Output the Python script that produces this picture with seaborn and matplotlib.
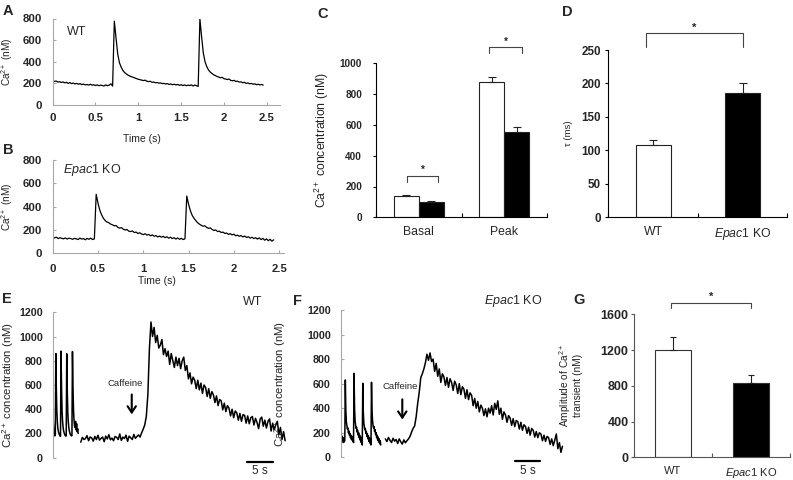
import numpy as np
import pandas as pd
import matplotlib
matplotlib.use('Agg')  # headless
import matplotlib.pyplot as plt
import seaborn as sns

# ---------------- data ----------------
# A: WT Ca2+ transient (nM), one sample every 20 ms from 0 to 2.46 s
a_end = 2.46
a_ca = [225, 218, 222, 212, 216, 208, 213, 205, 210, 200, 207, 198, 203, 195, 200, 192,
        198, 188, 194, 186, 190, 184, 192, 183, 188, 180, 186, 178, 184, 180, 176, 186,
        178, 184, 196, 175,
        775, 620, 470, 390, 350, 320, 300, 288, 276, 268, 262, 256, 250, 244, 238, 234,
        230, 226, 230, 220, 216, 220, 210, 212, 206, 208, 202, 204, 198, 200, 194, 198,
        190, 194, 188, 192, 186, 190, 182, 188, 180, 186, 178, 184, 180, 186, 176, 184,
        178, 172,
        795, 630, 480, 400, 355, 325, 305, 292, 280, 272, 264, 258, 252, 256, 244, 240,
        236, 240, 228, 224, 228, 218, 220, 212, 214, 206, 210, 200, 204, 196, 200, 192,
        196, 188, 192, 186, 190, 184]

# B: Epac1 KO transient (nM), one sample every 20 ms from 0 to 2.44 s
b_end = 2.44
b_ca = [140, 132, 138, 126, 134, 128, 124, 132, 122, 130, 126, 120, 128, 124, 118, 130,
        122, 126, 116, 128, 120, 130, 118, 124,
        506, 430, 370, 330, 300, 280, 268, 262, 250, 244, 236, 238, 222, 216, 220, 206,
        200, 204, 190, 186, 192, 178, 182, 170, 176, 166, 160, 168, 156, 162, 150, 158,
        146, 152, 140, 148, 138, 146, 134, 142, 130, 138, 126, 134, 122, 132, 120, 128,
        118, 124,
        491, 420, 365, 325, 300, 280, 262, 250, 240, 232, 236, 222, 214, 218, 204, 196,
        200, 186, 190, 178, 182, 170, 174, 162, 168, 158, 164, 150, 156, 146, 152, 140,
        148, 136, 142, 130, 138, 126, 134, 122, 132, 118, 128, 112, 124, 108, 120, 104,
        116]

# E: WT, spontaneous transients (0-4.9 s, 0.1 s steps) then caffeine (5.4-44.7 s)
e_seg1 = (0.0, 4.9)
e_ca1 = [330, 300, 240, 200, 180, 185, 860, 560, 380, 290, 240, 215, 200, 188, 180, 176,
         880, 580, 390, 300, 250, 222, 205, 192, 184, 178, 180, 858, 560, 380, 295, 248,
         220, 204, 192, 185, 180, 182, 876, 590, 400, 310, 260, 250, 300, 230, 280, 215,
         240, 200]
e_seg2 = (5.4, 44.7)
e_ca2 = [128, 168, 150, 158, 182, 140, 171, 163, 137, 176, 150, 185, 145, 160, 170, 132,
         178, 155, 190, 148, 162, 140, 175, 168, 150, 196, 142, 170, 158, 186, 135, 178,
         165, 150, 192, 160, 175, 188, 170, 205, 235, 270, 340, 520, 900, 1120,
         1000, 1075, 950, 1010, 905, 930, 975, 850, 900, 835, 880, 770, 860, 800, 745, 830,
         760, 820, 735, 800, 830, 720, 760, 650, 700, 610, 665, 640, 570, 640, 560, 615,
         530, 600, 580, 505, 570, 490, 545, 520, 455, 510, 430, 480, 470, 395, 450, 380,
         430, 410, 345, 400, 330, 385, 370, 310, 365, 300, 355, 350, 285, 345, 280, 330,
         340, 270, 325, 290, 240, 320, 335, 260, 310, 245, 300, 320, 220, 285, 230, 270,
         300, 190, 250, 150, 215, 140]

# F: Epac1 KO, spontaneous transients (0-7.8 s) then caffeine (8.7-43.2 s)
f_seg1 = (0.0, 7.8)
f_ca1 = [160, 140, 175, 130, 165, 120, 150, 125, 140, 630, 380, 290, 260, 230, 240, 200,
         215, 180, 195, 160, 180, 145, 170, 135, 160, 120, 684, 400, 300, 265, 235, 245,
         205, 220, 180, 200, 160, 180, 140, 165, 120, 150, 100, 603, 370, 285, 250, 225,
         235, 195, 210, 170, 190, 150, 175, 130, 160, 115, 150, 100, 611, 380, 300, 260,
         240, 250, 210, 225, 185, 200, 160, 180, 140, 165, 125, 150, 110, 135, 100]
f_seg2 = (8.7, 43.2)
f_ca2 = [150, 128, 162, 138, 120, 155, 132, 145, 112, 150, 126, 108, 142, 118, 135,
         150, 170, 205, 235, 255, 330, 440, 530, 650, 680, 720, 770, 840, 790, 850, 780, 800,
         700, 765, 660, 720, 610, 680, 655, 585, 650, 570, 640, 610, 545, 620, 590, 520,
         600, 510, 575, 555, 480, 550, 470, 525, 505, 420, 480, 400, 455, 370, 425, 400,
         340, 395, 330, 400, 360, 420, 345, 440, 390, 460, 350, 400, 310, 370, 345, 285,
         340, 320, 260, 315, 250, 300, 290, 230, 285, 220, 265, 250, 195, 245, 180, 235,
         220, 165, 210, 160, 200, 190, 135, 180, 130, 170, 160, 105, 150, 95, 140, 190,
         70, 120, 40, 90]

# C: basal / peak Ca2+ (nM), mean and upper SEM
c_groups = ['Basal', 'Peak']
c_wt = [141, 879]
c_wt_err = [3, 34]
c_ko = [102, 556]
c_ko_err = [5, 33]

# D: decay constant tau (ms)
genotypes = ['WT', 'Epac1 KO']
d_tau = [108, 186]
d_err = [8, 15]

# G: caffeine-induced transient amplitude (nM)
g_amp = [1205, 835]
g_err = [141, 86]

KO_LABEL = r'$\mathit{Epac1}$ KO'

# ---------------- style ----------------
sns.set_style('ticks')
plt.rcParams['font.family'] = ['Liberation Sans', 'DejaVu Sans']
plt.rcParams['mathtext.fontset'] = 'custom'
plt.rcParams['mathtext.rm'] = 'Liberation Sans'
plt.rcParams['mathtext.it'] = 'Liberation Sans:italic'
plt.rcParams['mathtext.bf'] = 'Liberation Sans:bold'

W, H = 793, 480
fig = plt.figure(figsize=(W / 100, H / 100), dpi=100)


def px_axes(left, top, right, bottom):
    # axes from pixel box of the reference
    return fig.add_axes([left / W, 1 - bottom / H, (right - left) / W, (bottom - top) / H])


def fig_text(x, y, s, **kw):
    fig.text(x / W, 1 - y / H, s, **kw)


def trace(ax, seg, vals, lw=0.9):
    t = np.linspace(seg[0], seg[1], len(vals))
    sns.lineplot(x=t, y=vals, ax=ax, color='black', lw=lw, estimator=None, sort=False)


def trace_style(ax, tick_size, grey='#a8a8a8'):
    for s in ['top', 'right']:
        ax.spines[s].set_visible(False)
    for s in ['left', 'bottom']:
        ax.spines[s].set_color(grey)
        ax.spines[s].set_linewidth(0.8)
    ax.tick_params(direction='in', length=2.5, width=0.8, color=grey, labelsize=tick_size)
    for lab in ax.get_xticklabels() + ax.get_yticklabels():
        lab.set_fontweight('bold')


def bar_style(ax, tick_size, cat_size, spine_col):
    for s in ['top', 'right']:
        ax.spines[s].set_visible(False)
    for s in ['left', 'bottom']:
        ax.spines[s].set_color(spine_col)
        ax.spines[s].set_linewidth(0.8)
    ax.set_xlim(-0.5, 1.5)
    ax.set_xticks([-0.5, 0.5, 1.5], minor=True)
    ax.tick_params(axis='x', which='major', length=0, labelsize=cat_size, pad=6)
    ax.tick_params(axis='x', which='minor', direction='in', length=3, width=0.8, color=spine_col)
    ax.tick_params(axis='y', direction='out', length=2.5, width=0.8, color=spine_col,
                   labelsize=tick_size)
    for lab in ax.get_yticklabels():
        lab.set_fontweight('bold')
    ax.set_xlabel('')


def up_errors(ax, container, errs, cap):
    for bar, e in zip(container, errs):
        x = bar.get_x() + bar.get_width() / 2
        h = bar.get_height()
        ax.errorbar([x], [h], yerr=[[0], [e]], fmt='none', ecolor='#222222',
                    elinewidth=0.8, capsize=cap, capthick=0.8)


def bracket(ax, x0, x1, top, tip, star_size=8):
    ax.plot([x0, x0, x1, x1], [tip, top, top, tip], color='#444444', lw=0.8, clip_on=False)
    ax.annotate('*', xy=((x0 + x1) / 2, top), xytext=(0, 0.5), textcoords='offset points',
                ha='center', va='bottom', fontsize=star_size, fontweight='bold',
                annotation_clip=False)


# ---------------- A ----------------
ax_a = px_axes(52.7, 18.5, 279.5, 105)
trace(ax_a, (0, a_end), a_ca)
ax_a.set_xlim(0, 2.65)
ax_a.set_ylim(0, 800)
ax_a.set_yticks([0, 200, 400, 600, 800])
ax_a.set_xticks([0, 0.5, 1, 1.5, 2, 2.5])
ax_a.set_xticklabels(['0', '0.5', '1', '1.5', '2', '2.5'])
trace_style(ax_a, 8.2)
ax_a.tick_params(axis='y', pad=7.5)
ax_a.tick_params(axis='x', pad=6)
ax_a.set_ylabel('Ca$^{2+}$ (nM)', fontsize=7.2, color='#222222')
ax_a.set_xlabel('Time (s)', fontsize=7.5, color='#222222')
ax_a.yaxis.set_label_coords(-0.168, 0.5)
ax_a.xaxis.set_label_coords(0.394, -0.335)
ax_a.text(0.17, 672, 'WT', fontsize=9, ha='left', va='center')

# ---------------- B ----------------
ax_b = px_axes(52.7, 160, 283.7, 253.3)
trace(ax_b, (0, b_end), b_ca)
ax_b.set_xlim(0, 2.55)
ax_b.set_ylim(0, 800)
ax_b.set_yticks([0, 200, 400, 600, 800])
ax_b.set_xticks([0, 0.5, 1, 1.5, 2, 2.5])
ax_b.set_xticklabels(['0', '0.5', '1', '1.5', '2', '2.5'])
trace_style(ax_b, 8.2)
ax_b.tick_params(axis='y', pad=7.5)
ax_b.tick_params(axis='x', pad=8)
ax_b.set_ylabel('Ca$^{2+}$ (nM)', fontsize=7.2, color='#222222')
ax_b.set_xlabel('Time (s)', fontsize=7.5, color='#222222')
ax_b.yaxis.set_label_coords(-0.165, 0.5)
ax_b.xaxis.set_label_coords(0.45, -0.243)
ax_b.text(0.117, 714, KO_LABEL, fontsize=9, ha='left', va='center')

# ---------------- C ----------------
ax_c = px_axes(376, 63.3, 547, 217.3)
df_c = pd.DataFrame({
    'group': c_groups * 2,
    'genotype': ['WT'] * 2 + ['KO'] * 2,
    'value': c_wt + c_ko,
})
sns.barplot(data=df_c, x='group', y='value', hue='genotype', hue_order=['WT', 'KO'],
            palette={'WT': 'white', 'KO': 'black'}, edgecolor='#222222', linewidth=0.8,
            width=0.58, gap=0, errorbar=None, legend=False, ax=ax_c)
up_errors(ax_c, ax_c.containers[0], c_wt_err, 3.2)
up_errors(ax_c, ax_c.containers[1], c_ko_err, 3.2)
ax_c.set_ylim(0, 1000)
ax_c.set_yticks([0, 200, 400, 600, 800, 1000])
bar_style(ax_c, 7.2, 8.8, 'black')
ax_c.tick_params(axis='y', pad=7.5)
ax_c.set_ylabel('Ca$^{2+}$ concentration (nM)', fontsize=8.8, color='#222222')
ax_c.yaxis.set_label_coords(-0.265, 0.5)
bracket(ax_c, -0.14, 0.23, 270, 232, 7)
bracket(ax_c, 0.825, 1.21, 1104, 1065, 7)

# ---------------- D ----------------
ax_d = px_axes(608.3, 50, 787.3, 217.3)
df_d = pd.DataFrame({'genotype': genotypes, 'tau': d_tau})
sns.barplot(data=df_d, x='genotype', y='tau', hue='genotype',
            palette={'WT': 'white', 'Epac1 KO': 'black'}, edgecolor='#222222', linewidth=0.8,
            width=0.39, errorbar=None, legend=False, ax=ax_d)
for cont, e in zip(ax_d.containers, d_err):
    up_errors(ax_d, cont, [e], 3)
ax_d.set_ylim(0, 250)
ax_d.set_yticks([0, 50, 100, 150, 200, 250])
ax_d.set_xticks([0, 1])
ax_d.set_xticklabels(['WT', KO_LABEL])
bar_style(ax_d, 8.4, 8.8, 'black')
ax_d.tick_params(axis='y', pad=3)
ax_d.set_ylabel('τ (ms)', fontsize=6.8, color='#222222')
ax_d.yaxis.set_label_coords(-0.196, 0.5)
bracket(ax_d, -0.08, 1.0, 275, 255)

# ---------------- E ----------------
ax_e = px_axes(52.7, 312.3, 286.7, 457.7)
trace(ax_e, e_seg1, e_ca1, lw=1.1)
trace(ax_e, e_seg2, e_ca2, lw=1.1)
ax_e.set_xlim(0, 45)
ax_e.set_ylim(0, 1200)
ax_e.set_yticks([0, 200, 400, 600, 800, 1000, 1200])
trace_style(ax_e, 7.7)
ax_e.spines['bottom'].set_visible(False)
ax_e.set_xticks([])
ax_e.tick_params(axis='y', pad=7)
ax_e.set_ylabel('Ca$^{2+}$ concentration (nM)', fontsize=8.2, color='#222222')
ax_e.yaxis.set_label_coords(-0.156, 0.5)
ax_e.plot([37.3, 42.3], [-32, -32], color='black', lw=1.6, clip_on=False)
ax_e.text(39.8, -62, '5 s', fontsize=8.5, ha='center', va='top')
ax_e.text(13.9, 616, 'Caffeine', fontsize=6.8, ha='center', va='center')
ax_e.annotate('', xy=(15.2, 335), xytext=(15.2, 545),
              arrowprops=dict(arrowstyle='->,head_length=0.45,head_width=0.3', color='black', lw=1.5))
fig_text(253, 302, 'WT', fontsize=9, ha='center', va='center')

# ---------------- F ----------------
ax_f = px_axes(340.7, 310, 563.5, 457.3)
trace(ax_f, f_seg1, f_ca1, lw=1.1)
trace(ax_f, f_seg2, f_ca2, lw=1.1)
ax_f.set_xlim(0, 43.4)
ax_f.set_ylim(0, 1200)
ax_f.set_yticks([0, 200, 400, 600, 800, 1000, 1200])
trace_style(ax_f, 7.7)
ax_f.spines['bottom'].set_visible(False)
ax_f.set_xticks([])
ax_f.tick_params(axis='y', pad=7)
ax_f.set_ylabel('Ca$^{2+}$ concentration (nM)', fontsize=8.2, color='#222222')
ax_f.yaxis.set_label_coords(-0.235, 0.5)
ax_f.plot([33.9, 38.9], [-30, -30], color='black', lw=1.6, clip_on=False)
ax_f.text(36.4, -62, '5 s', fontsize=8.5, ha='center', va='top')
ax_f.text(11.5, 575, 'Caffeine', fontsize=6.8, ha='center', va='center')
ax_f.annotate('', xy=(12.0, 285), xytext=(12.0, 495),
              arrowprops=dict(arrowstyle='->,head_length=0.45,head_width=0.3', color='black', lw=1.5))
fig_text(513, 301, KO_LABEL, fontsize=9, ha='center', va='center')

# ---------------- G ----------------
ax_g = px_axes(634, 314.3, 790, 457.3)
df_g = pd.DataFrame({'genotype': genotypes, 'amp': g_amp})
sns.barplot(data=df_g, x='genotype', y='amp', hue='genotype',
            palette={'WT': 'white', 'Epac1 KO': 'black'}, edgecolor='#333333', linewidth=0.8,
            width=0.46, errorbar=None, legend=False, ax=ax_g)
for cont, e in zip(ax_g.containers, g_err):
    up_errors(ax_g, cont, [e], 2.5)
ax_g.set_ylim(0, 1600)
ax_g.set_yticks([0, 400, 800, 1200, 1600])
ax_g.set_xticks([0, 1])
ax_g.set_xticklabels(['WT', KO_LABEL])
bar_style(ax_g, 9, 8, '#555555')
ax_g.tick_params(axis='y', pad=1.5)
ax_g.set_ylabel('Amplitude of Ca$^{2+}$\ntransient (nM)', fontsize=7.3, color='#222222',
                linespacing=1.0)
ax_g.yaxis.set_label_coords(-0.33, 0.5)
bracket(ax_g, -0.03, 1.0, 1730, 1667)

# ---------------- panel letters ----------------
for letter, x, y in [('A', 3, 15), ('B', 3, 154), ('C', 317, 17.5), ('D', 562, 16),
                     ('E', 2, 303), ('F', 293, 305), ('G', 573, 304)]:
    fig_text(x, y, letter, fontsize=10.5, fontweight='bold', ha='left', va='baseline')

fig.savefig('out.png', dpi=100)
